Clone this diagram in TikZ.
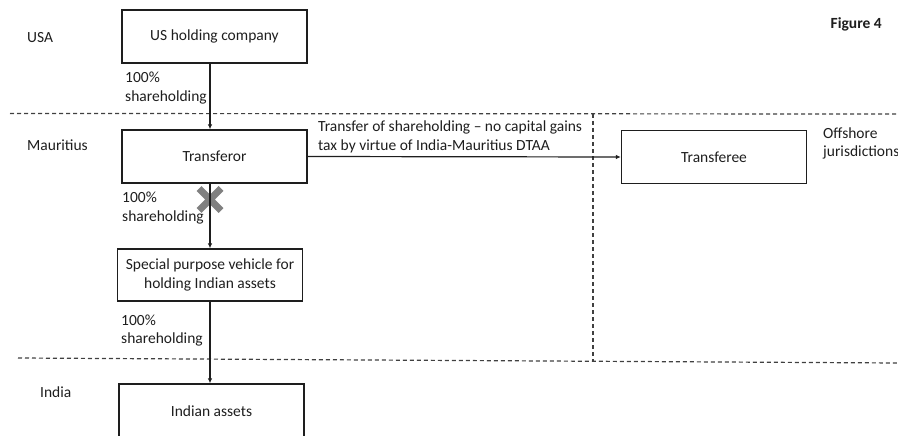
\documentclass[tikz,border=0pt]{standalone}
\usepackage{fontspec}
\setmainfont{Carlito}
\usetikzlibrary{arrows.meta}
\definecolor{ink}{HTML}{1E1E1E}
\definecolor{xgray}{HTML}{808080}
\begin{document}
\begin{tikzpicture}[x=1pt,y=-1pt,
  every node/.style={text=ink,font=\fontsize{15.5}{18.5}\selectfont},
  box/.style={draw=ink,line width=1.3pt,minimum width=185pt,minimum height=53pt,align=center,inner sep=0pt},
  lbl/.style={anchor=west,align=left,inner sep=0pt},
  arr/.style={draw=ink,line width=1.2pt,-{Latex[length=5pt,width=4.5pt]}},
  sep/.style={draw=ink!85,line width=1.2pt,dash pattern=on 4pt off 3pt}]
\useasboundingbox (0,0) rectangle (898,436);
% separators
\draw[sep] (10,113.5) -- (898,114);
\draw[sep] (593,114) -- (593,361);
\draw[sep] (18,358) -- (898,363);
% boxes
\node[box] (us) at (214.5,36.5) {US holding company};
\node[box] (tr) at (214.5,156.5) {Transferor};
\node[box] (te) at (714,157) {Transferee};
\node[box,minimum height=52pt] (spv) at (210,275) {Special purpose vehicle for\\holding Indian assets};
\node[box,minimum height=54pt] (ia) at (211.5,411) {Indian assets};
% region labels
\node[lbl] (usa) at (27,38) {USA};
\node[lbl] (mau) at (27,145) {Mauritius};
\node[lbl] (ind) at (40,392) {India};
\node[lbl] (off) at (823,143.5) {Offshore\\jurisdictions};
\node[anchor=east,inner sep=0pt,font=\fontsize{15.5}{18.5}\selectfont\bfseries] (fig) at (882,24) {Figure 4};
% shareholding labels
\node[lbl] (s1) at (125,88) {100\%\\shareholding};
\node[lbl] (s2) at (122,208) {100\%\\shareholding};
\node[lbl] (s3) at (121,330.5) {100\%\\shareholding};
\node[lbl] (tt) at (318,137) {Transfer of shareholding -- no capital gains\\tax by virtue of India-Mauritius DTAA};
% X mark
\coordinate (xc) at (210,199.5);
\draw[xgray,line width=7pt] ([shift={(-11,-11)}]xc) -- ([shift={(11,11)}]xc)
  ([shift={(-11,11)}]xc) -- ([shift={(11,-11)}]xc);
% connectors
\draw[arr] ([xshift=-4.5pt]us.south) -- ([xshift=-4.5pt]tr.north);
\draw[arr] ([xshift=-4.5pt]tr.south) -- (spv.north);
\draw[arr] (spv.south) -- (spv.south |- ia.north);
\draw[arr] (tr.east) -- (te.west);
\end{tikzpicture}
\end{document}
